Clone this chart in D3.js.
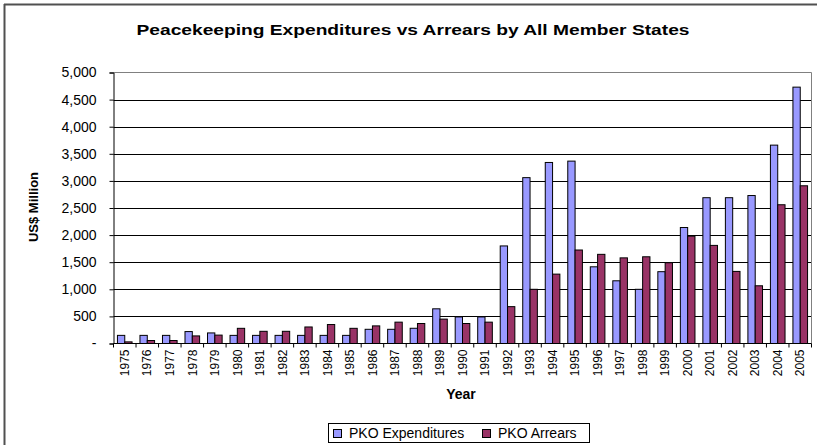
<!DOCTYPE html>
<html>
  <head>
    <meta charset="utf-8">
    <style>
     body{
         margin: 0;
         background-color: white;
     }
     text{
         font-family: "Liberation Sans", Arial, sans-serif;
     }
    </style>
    <script src="https://d3js.org/d3.v7.min.js"></script>
    <title>Peacekeeping Expenditures vs Arrears</title>
  </head>
  <body>
    <script>
    // chart values (US$ million)
    const years = ["1975","1976","1977","1978","1979","1980","1981","1982","1983","1984",
                   "1985","1986","1987","1988","1989","1990","1991","1992","1993","1994",
                   "1995","1996","1997","1998","1999","2000","2001","2002","2003","2004","2005"];
    const expenditures = [150,150,150,220,195,150,150,150,150,150,
                          150,262,262,281,640,490,490,1800,3060,3340,
                          3365,1415,1157,1000,1325,2140,2690,2690,2730,3660,4730];
    const arrears = [30,55,55,140,155,280,225,225,305,350,
                     280,325,394,369,450,369,394,680,1000,1280,
                     1725,1645,1580,1600,1490,1980,1810,1330,1065,2560,2910];
    const seriesNames = ["PKO Expenditures","PKO Arrears"];
    const seriesColors = ["#9999FF","#993366"];
    const yTicks = [0,500,1000,1500,2000,2500,3000,3500,4000,4500,5000];

    const w = 817;
    const h = 445;
    const plotLeft = 113.5, plotRight = 811.5, plotTop = 72.5, plotBottom = 343.5;

    const svg = d3.select("body")
                  .append("svg")
                  .attr("width", w)
                  .attr("height", h);

    // outer frame (top and left edges only are visible)
    svg.append("line").attr("x1",4).attr("x2",w).attr("y1",4.5).attr("y2",4.5)
       .attr("stroke","#505050").attr("stroke-width",2);
    svg.append("line").attr("x1",4.5).attr("x2",4.5).attr("y1",4).attr("y2",h)
       .attr("stroke","#505050").attr("stroke-width",2);

    const x = d3.scaleBand().domain(years).range([plotLeft, plotRight]).padding(0);
    const xInner = d3.scaleBand().domain(seriesNames).range([0, x.bandwidth()])
                     .paddingInner(0).paddingOuter(0.54);
    const y = d3.scaleLinear().domain([0, 5000]).range([plotBottom, plotTop]);

    // gridlines
    svg.append("g").selectAll("line")
       .data(yTicks.filter(d => d > 0 && d < 5000))
       .enter().append("line")
       .attr("x1", plotLeft).attr("x2", plotRight)
       .attr("y1", d => Math.round(y(d)) + 0.5).attr("y2", d => Math.round(y(d)) + 0.5)
       .attr("stroke", "black");

    // plot area border top/right
    svg.append("path")
       .attr("d", `M${plotLeft},${plotTop}H${plotRight}V${plotBottom}`)
       .attr("fill","none").attr("stroke","#808080");

    // bars
    const table = years.map((yr, i) => ({year: yr, values: [expenditures[i], arrears[i]]}));
    const groups = svg.append("g").selectAll("g")
       .data(table).enter().append("g")
       .attr("transform", d => `translate(${x(d.year)},0)`);
    groups.selectAll("rect")
       .data(d => d.values.map((v, k) => ({name: seriesNames[k], value: v, k: k})))
       .enter().append("rect")
       .attr("x", d => xInner(d.name))
       .attr("y", d => y(d.value))
       .attr("width", xInner.bandwidth())
       .attr("height", d => y(0) - y(d.value))
       .attr("fill", d => seriesColors[d.k])
       .attr("stroke", "black")
       .attr("stroke-width", 1);

    // y axis
    const yAxis = d3.axisLeft(y).tickValues(yTicks).tickSize(4).tickPadding(13)
                    .tickFormat(d => d === 0 ? "-" : d3.format(",")(d));
    const gy = svg.append("g").attr("transform", `translate(${plotLeft},0)`).call(yAxis);
    gy.select(".domain").attr("stroke","black");
    gy.selectAll("text").attr("font-size", 14).attr("font-family", '"Liberation Sans", Arial, sans-serif')
      .attr("fill","black");

    // x axis: labels at category centres, ticks between categories
    const xAxis = d3.axisBottom(x).tickSize(0).tickPadding(0);
    const gx = svg.append("g").attr("transform", `translate(0,${plotBottom})`).call(xAxis);
    gx.select(".domain").remove();
    gx.selectAll("text")
      .attr("transform", "rotate(-90)")
      .attr("x", -6).attr("y", 0).attr("dy", "0.35em")
      .style("text-anchor", "end")
      .attr("font-size", 12).attr("font-family", '"Liberation Sans", Arial, sans-serif')
      .attr("fill","black");
    svg.append("line").attr("x1", plotLeft).attr("x2", plotRight).attr("y1", plotBottom).attr("y2", plotBottom)
       .attr("stroke","black");
    svg.append("g").selectAll("line")
       .data(years.concat(["end"]))
       .enter().append("line")
       .attr("x1", d => d === "end" ? plotRight : x(d))
       .attr("x2", d => d === "end" ? plotRight : x(d))
       .attr("y1", plotBottom).attr("y2", plotBottom + 4)
       .attr("stroke","black");

    // titles
    svg.append("text")
       .attr("x", 413).attr("y", 35)
       .attr("text-anchor","middle")
       .attr("font-size", 15).attr("font-weight","bold")
       .attr("textLength", 553).attr("lengthAdjust","spacingAndGlyphs")
       .text("Peacekeeping Expenditures vs Arrears by All Member States");
    svg.append("text")
       .attr("transform", "translate(38,207) rotate(-90)")
       .attr("text-anchor","middle")
       .attr("font-size", 13).attr("font-weight","bold")
       .text("US$ Million");
    svg.append("text")
       .attr("x", 461).attr("y", 399)
       .attr("text-anchor","middle")
       .attr("font-size", 14).attr("font-weight","bold")
       .text("Year");

    // legend
    const legend = svg.append("g");
    legend.append("rect").attr("x", 328.5).attr("y", 423.5).attr("width", 261).attr("height", 19)
          .attr("fill","white").attr("stroke","black");
    const legendX = [333, 482];
    seriesNames.forEach((name, k) => {
      legend.append("rect").attr("x", legendX[k] + 0.5).attr("y", 429.5).attr("width", 8).attr("height", 8)
            .attr("fill", seriesColors[k]).attr("stroke","black");
      legend.append("text").attr("x", legendX[k] + 16).attr("y", 438)
            .attr("font-size", 14).text(name);
    });
    </script>
  </body>
</html>
